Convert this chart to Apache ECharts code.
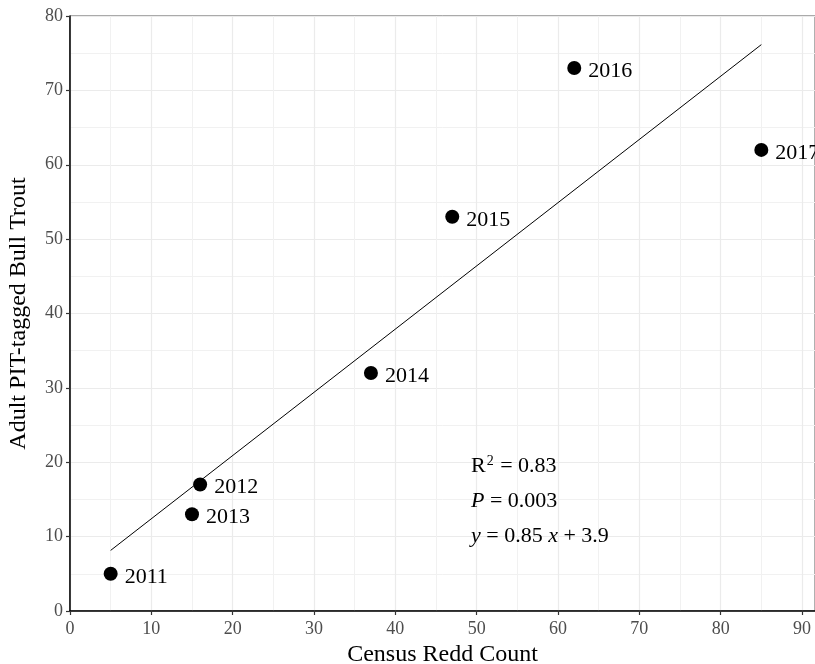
<!DOCTYPE html>
<html><head><meta charset="utf-8">
<script src="https://cdn.jsdelivr.net/npm/echarts@6/dist/echarts.min.js"></script>
<style>html,body{margin:0;padding:0;background:#fff}#c{width:815px;height:664px}</style>
</head><body><div id="c"></div>
<script>
const years = ['2011','2012','2013','2014','2015','2016','2017'];
const reddCount = [5, 16, 15, 37, 47, 62, 85];
const pitTagged = [5, 17, 13, 32, 53, 73, 62];
const fitSlope = 0.85;
const fitIntercept = 3.9;
const fitRange = [5, 85];
const xTicks = [0,10,20,30,40,50,60,70,80,90];
const yTicks = [0,10,20,30,40,50,60,70,80];
const annotX = 49.3;
const annotY = [19.5, 14.8, 10.0];

const font = 'Liberation Serif';
const chart = echarts.init(document.getElementById('c'), null, {renderer:'canvas'});
const pts = reddCount.map((x,i)=>[x, pitTagged[i], years[i]]);
const fitLine = fitRange.map(x=>[x, fitSlope*x+fitIntercept]);
const annotData = [
  {value:[annotX, annotY[0]], label:{formatter:'{n|R}{s|2}{n| = 0.83}'}},
  {value:[annotX, annotY[1]], label:{formatter:'{i|P}{n| = 0.003}'}},
  {value:[annotX, annotY[2]], label:{formatter:'{i|y}{n| = 0.85 }{i|x}{n| + 3.9}'}}
];
const axisCommon = {
  type:'value', interval:10,
  axisLine:{show:true, lineStyle:{color:'#000', width:1.5}},
  axisTick:{show:true, length:4, lineStyle:{color:'#333', width:1.2}},
  axisLabel:{color:'#4d4d4d', fontFamily:font, fontSize:18, showMaxLabel:false,
    formatter:v=> v%10===0 ? String(v) : ''},
  splitLine:{show:true, lineStyle:{color:'#ebebeb', width:1.2}},
  minorTick:{show:false, splitNumber:2},
  minorSplitLine:{show:true, lineStyle:{color:'#f1f1f1', width:1}},
  nameTextStyle:{color:'#000', fontFamily:font, fontSize:24}
};
chart.setOption({
  backgroundColor:'#fff',
  animation:false,
  grid:{left:70, top:16, right:0, bottom:53, outerBoundsMode:'none', containLabel:false,
        show:true, borderColor:'#555', borderWidth:1, backgroundColor:'transparent'},
  xAxis:Object.assign({}, axisCommon, {min:0, max:91.6, name:'Census Redd Count', nameLocation:'middle', nameGap:32,
     axisLabel:Object.assign({}, axisCommon.axisLabel, {margin:9})}),
  yAxis:Object.assign({}, axisCommon, {min:0, max:80, name:'Adult PIT-tagged Bull Trout', nameLocation:'middle', nameGap:39,
     axisLabel:Object.assign({}, axisCommon.axisLabel, {showMaxLabel:true, margin:7})}),
  series:[
    {type:'line', data:fitLine, symbol:'none', lineStyle:{color:'#000', width:1}, z:2},
    {type:'scatter', data:pts, symbolSize:14, itemStyle:{color:'#000', opacity:1}, z:3,
     label:{show:true, position:'right', distance:7, offset:[0,3], formatter:p=>p.data[2],
       color:'#000', fontFamily:font, fontSize:22}},
    {type:'scatter', data:annotData, symbolSize:0, silent:true, z:4, itemStyle:{opacity:1},
     label:{show:true, position:'right', distance:0, color:'#000',
       rich:{
         n:{fontFamily:font, fontSize:22, color:'#000'},
         i:{fontFamily:font, fontSize:22, fontStyle:'italic', color:'#000'},
         s:{fontFamily:font, fontSize:14, color:'#000', verticalAlign:'top', padding:[0,1,10,1]}
       }}}
  ]
});
</script></body></html>
